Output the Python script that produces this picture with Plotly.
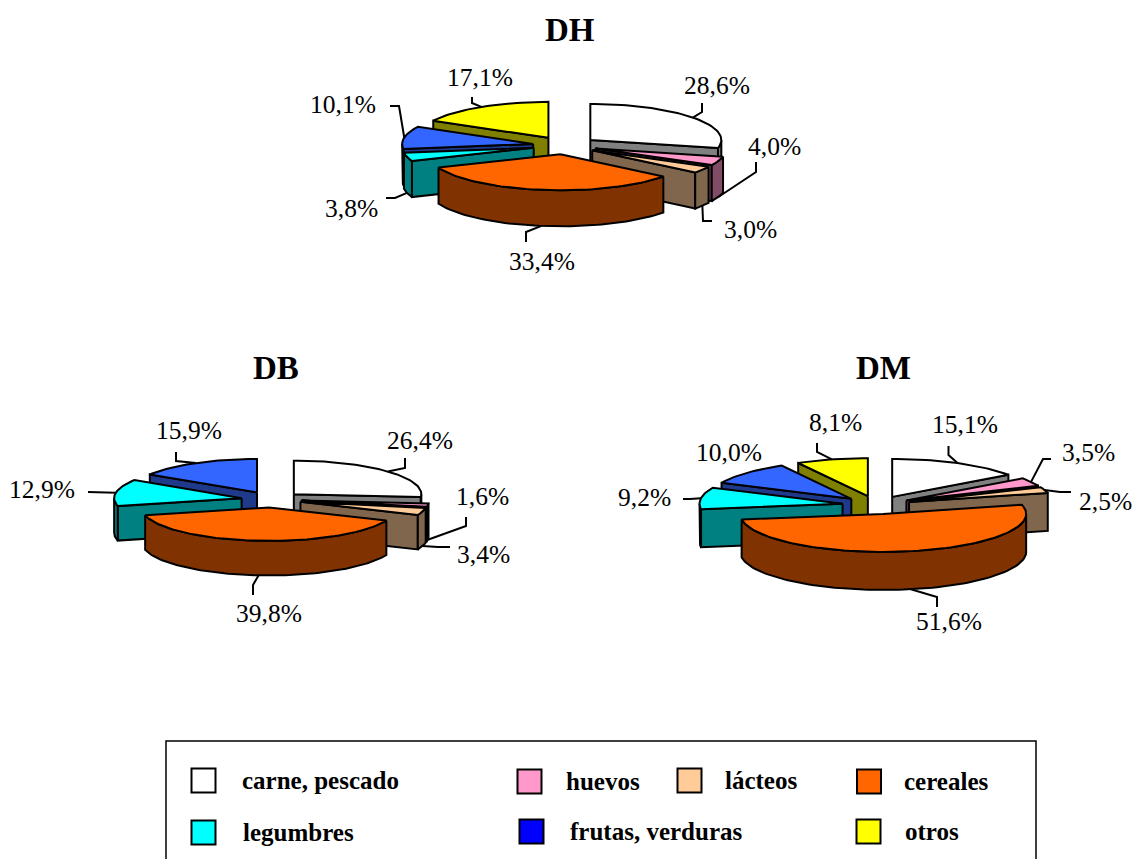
import math
import plotly.graph_objects as go

# Food-group shares (percent) for each diet, clockwise from twelve o'clock.
categories = ["carne, pescado", "huevos", "lácteos", "cereales",
              "legumbres", "frutas, verduras", "otros"]
dh_values = [28.6, 4.0, 3.0, 33.4, 3.8, 10.1, 17.1]
db_values = [26.4, 1.6, 3.4, 39.8, 12.9, 15.9, 0.0]
dm_values = [15.1, 3.5, 2.5, 51.6, 9.2, 10.0, 8.1]

top_colors = ["#ffffff", "#ff99cc", "#ffcc99", "#ff6600", "#00ffff", "#3366ff", "#ffff00"]
side_colors = ["#808080", "#804c66", "#80664c", "#803300", "#008080", "#1f3a8a", "#808000"]
legend_colors = ["#ffffff", "#ff99cc", "#ffcc99", "#ff6600", "#00ffff", "#0000ff", "#ffff00"]

SERIF = "Liberation Serif"
INK = "#000000"

# Pie geometry: centre, ellipse radii, extrusion depth and explode fraction.
pies = [
    dict(name="DH", values=dh_values, cx=565, cy=145.5, rx=131, ry=36, depth=36, pull=0.247,
         title=(570, 30),
         labels={0: (717, 85), 1: (774, 146), 2: (750, 229), 3: (542, 261),
                 4: (351, 208), 5: (343, 104), 6: (480, 77)},
         bends={0: [(702, 103), (702, 112)], 1: [(756, 162), (756, 172)],
                2: [(712, 221), (703, 221)], 3: [(526, 242), (526, 232)],
                4: [(386, 198), (395, 198)], 5: [(390, 106), (399, 106)],
                6: [(472, 97), (472, 103)]}),
    dict(name="DB", values=db_values, cx=271.5, cy=499.5, rx=127.5, ry=33.5, depth=34.5, pull=0.2375,
         title=(276, 368),
         labels={0: (420, 440), 1: (482, 496), 2: (483, 554), 3: (269, 613),
                 4: (42, 489), 5: (189, 430)},
         bends={0: [(405, 458), (405, 468)], 1: [(466, 517), (466, 526)],
                2: [(450, 547), (438, 547)], 3: [(253, 595), (253, 585)],
                4: [(88, 492), (102, 492)], 5: [(176, 452), (176, 461)]}),
    dict(name="DM", values=dm_values, cx=876.5, cy=505, rx=143, ry=38, depth=38, pull=0.24,
         title=(883, 368),
         labels={0: (965, 424), 1: (1088, 452), 2: (1105, 501), 3: (949, 621),
                 4: (644, 497), 5: (729, 452), 6: (835, 422)},
         bends={0: [(948.5, 446), (948.5, 455)], 1: [(1051, 459), (1043, 459)],
                2: [(1071, 492), (1060, 492)], 3: [(937, 607), (937, 597)],
                4: [(683, 499), (690, 499)], 6: [(817, 443), (817, 452)]}),
]

# Legend placement: swatch centre and left edge of its text.
legend_slots = [(203.5, 780.5, 240), (529.5, 781.5, 564), (689.5, 780.5, 723), (869, 781.5, 902),
                (203.5, 832.5, 241), (531.5, 831.5, 568), (868.5, 831.5, 903)]

fig = go.Figure()


def add_face(xs, ys, fill):
    fig.add_trace(go.Scatter(
        x=xs, y=ys, mode="lines", fill="toself", fillcolor=fill,
        line=dict(color=INK, width=2), hoverinfo="skip", showlegend=False))


def rim_point(pie, apex, deg):
    t = math.radians(deg)
    return apex[0] + pie["rx"] * math.sin(t), apex[1] - pie["ry"] * math.cos(t)


def arc(pie, apex, a, b):
    n = max(2, int(abs(b - a) / 2) + 2)
    return [rim_point(pie, apex, a + (b - a) * i / (n - 1)) for i in range(n)]


def draw_slice(pie, apex, a, b, idx):
    d = pie["depth"]
    side = side_colors[idx]
    # Radial cut faces are only drawn when they turn towards the viewer.
    if math.sin(math.radians(a)) < 0:
        p = rim_point(pie, apex, a)
        add_face([apex[0], p[0], p[0], apex[0], apex[0]],
                 [apex[1], p[1], p[1] + d, apex[1] + d, apex[1]], side)
    if math.sin(math.radians(b)) > 0:
        p = rim_point(pie, apex, b)
        add_face([apex[0], p[0], p[0], apex[0], apex[0]],
                 [apex[1], p[1], p[1] + d, apex[1] + d, apex[1]], side)
    # Outer curved wall, front half only.
    lo, hi = max(a, 90), min(b, 270)
    if hi > lo:
        top = arc(pie, apex, lo, hi)
        xs = [q[0] for q in top] + [q[0] for q in reversed(top)] + [top[0][0]]
        ys = [q[1] for q in top] + [q[1] + d for q in reversed(top)] + [top[0][1]]
        add_face(xs, ys, side)
    # Top face.
    top = arc(pie, apex, a, b)
    add_face([apex[0]] + [q[0] for q in top] + [apex[0]],
             [apex[1]] + [q[1] for q in top] + [apex[1]], top_colors[idx])


annotations = []


def add_text(x, y, text, size, anchor="center"):
    annotations.append(dict(x=x, y=y, xref="x", yref="y", text=text, showarrow=False,
                            xanchor=anchor, yanchor="middle",
                            font=dict(family=SERIF, size=size, color=INK)))


for pie in pies:
    total = sum(pie["values"])
    slices = []
    running = 0.0
    for idx, value in enumerate(pie["values"]):
        if value <= 0:
            continue
        a = running / total * 360
        running += value
        b = running / total * 360
        mid = math.radians((a + b) / 2)
        apex = (pie["cx"] + pie["pull"] * pie["rx"] * math.sin(mid),
                pie["cy"] - pie["pull"] * pie["ry"] * math.cos(mid))
        slices.append((idx, a, b, mid, apex, value))

    # Back-to-front so that nearer slices overlap the farther ones.
    for idx, a, b, mid, apex, value in sorted(slices, key=lambda s: -math.cos(s[3])):
        draw_slice(pie, apex, a, b, idx)

    # Leader lines end on the slice rim at its middle angle.
    for idx, a, b, mid, apex, value in slices:
        label = pie["labels"][idx]
        add_text(label[0], label[1], f"{value:.1f}".replace(".", ",") + "%", 25.5)
        bend = pie["bends"].get(idx)
        if bend:
            end = rim_point(pie, apex, math.degrees(mid))
            drop = pie["depth"] if math.cos(mid) < 0 else 0
            fig.add_trace(go.Scatter(
                x=[p[0] for p in bend] + [end[0]],
                y=[p[1] for p in bend] + [end[1] + drop],
                mode="lines", line=dict(color=INK, width=2),
                hoverinfo="skip", showlegend=False))

    add_text(pie["title"][0], pie["title"][1], f"<b>{pie['name']}</b>", 33)

# Legend frame runs past the bottom of the page.
for (sx, sy, tx), name, color in zip(legend_slots, categories, legend_colors):
    fig.add_trace(go.Scatter(
        x=[sx], y=[sy], mode="markers",
        marker=dict(symbol="square", size=24, color=color, line=dict(color=INK, width=2)),
        hoverinfo="skip", showlegend=False))
    add_text(tx, sy, f"<b>{name}</b>", 25, anchor="left")

fig.update_layout(
    width=1134, height=859, margin=dict(l=0, r=0, t=0, b=0),
    paper_bgcolor="#ffffff", plot_bgcolor="#ffffff", showlegend=False,
    xaxis=dict(range=[0, 1134], visible=False, domain=[0, 1], fixedrange=True),
    yaxis=dict(range=[859, 0], visible=False, domain=[0, 1], fixedrange=True),
    annotations=annotations,
    shapes=[dict(type="rect", xref="x", yref="y", x0=166, x1=1036, y0=741, y1=880,
                 line=dict(color=INK, width=1.5), fillcolor="rgba(0,0,0,0)", layer="below")],
)

fig.write_html("out.html", config=dict(displayModeBar=False))
